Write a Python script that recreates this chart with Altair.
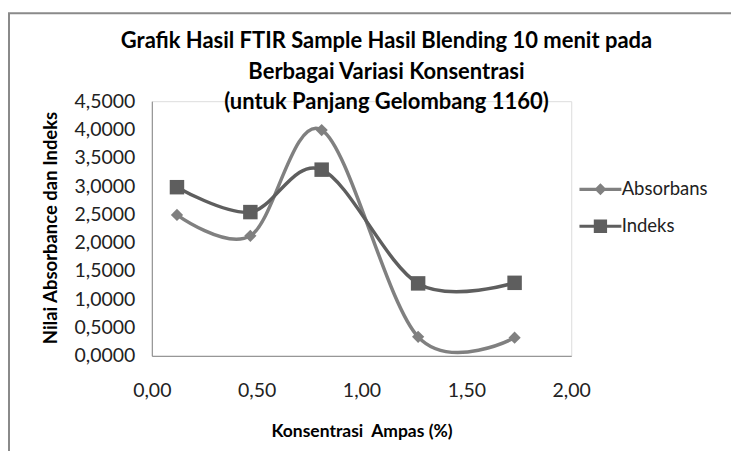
import altair as alt
import pandas as pd

# ---- data ----
konsentrasi = [0.12, 0.47, 0.81, 1.27, 1.73]
absorbans = [2.49, 2.12, 3.99, 0.335, 0.32]
indeks = [2.98, 2.54, 3.29, 1.28, 1.29]
series_names = ["Absorbans", "Indeks"]
series_colors = ["#808080", "#5e5e5e"]
marker_shapes = ["diamond", "square"]
marker_sizes = [150, 210]
x_ticks = [0, 0.5, 1.0, 1.5, 2.0]
y_ticks = [0, 0.5, 1.0, 1.5, 2.0, 2.5, 3.0, 3.5, 4.0, 4.5]
title_lines = [
    "Grafik Hasil FTIR Sample Hasil Blending 10 menit pada",
    "Berbagai Variasi Konsentrasi",
    "(untuk Panjang Gelombang 1160)",
]
x_title = "Konsentrasi\u00a0 Ampas (%)"
y_title = "Nilai Absorbance dan Indeks"

# legend symbols: line with marker (custom SVG paths)
legend_paths = [
    "M-3,-0.23H3V0.23H-3Z M-0.86,0L0,-0.86L0.86,0L0,0.86Z",
    "M-3,-0.23H3V0.23H-3Z M-0.95,-0.95H0.95V0.95H-0.95Z",
]

rows = []
for name, vals in zip(series_names, [absorbans, indeks]):
    for xv, yv in zip(konsentrasi, vals):
        rows.append({"series": name, "x": xv, "y": yv})
df = pd.DataFrame(rows)

FONT = "Lato"

x_enc = alt.X(
    "x:Q",
    scale=alt.Scale(domain=[0, 2], nice=False, zero=False),
    axis=alt.Axis(
        values=x_ticks,
        labelExpr="replace(format(datum.value, '.2f'), '.', ',')",
        ticks=False, grid=False, domainColor="#868686", domainWidth=1,
        labelFont=FONT, labelFontSize=19.5, labelColor="#222222",
        labelPadding=26, labelFlush=False, labelOverlap=False,
        title=x_title, titleFont=FONT, titleFontSize=17.5, titleFontWeight="bold",
        titleColor="#000000", titleY=76, titleBaseline="middle",
    ),
)
y_enc = alt.Y(
    "y:Q",
    scale=alt.Scale(domain=[0, 4.5], nice=False),
    axis=alt.Axis(
        values=y_ticks,
        labelExpr="replace(format(datum.value, '.4f'), '.', ',')",
        ticks=False, grid=False, domainColor="#868686", domainWidth=1,
        labelFont=FONT, labelFontSize=19.5, labelColor="#222222",
        labelPadding=17, labelFlush=False, labelOverlap=False,
        title=y_title, titleFont=FONT, titleFontSize=18.5, titleFontWeight="bold",
        titleColor="#000000", titleX=-101.5, titleY=126.5, titleAngle=-90,
        titleAlign="center", titleBaseline="middle",
    ),
)

color_scale = alt.Scale(domain=series_names, range=series_colors)

base = alt.Chart(df)

lines = base.mark_line(interpolate="cardinal", strokeWidth=3.5).encode(
    x=x_enc, y=y_enc,
    color=alt.Color("series:N", scale=color_scale, legend=None),
)

points = base.mark_point(filled=True, opacity=1).encode(
    x=x_enc, y=y_enc,
    color=alt.Color("series:N", scale=color_scale, legend=None),
    shape=alt.Shape("series:N", scale=alt.Scale(domain=series_names, range=marker_shapes), legend=None),
    size=alt.Size("series:O", scale=alt.Scale(domain=series_names, range=marker_sizes), legend=None),
)

leg = alt.Legend(
    orient="none", legendX=440, legendY=79, title=None,
    symbolSize=196, labelOffset=12, labelFont=FONT, labelFontSize=18.5,
    labelColor="#222222", rowPadding=18, padding=0, symbolStrokeWidth=0,
)
legend_layer = base.mark_point(filled=True, opacity=1).transform_filter("false").encode(
    x=x_enc, y=y_enc,
    color=alt.Color("series:N", scale=alt.Scale(domain=series_names, range=series_colors), legend=leg),
    shape=alt.Shape("series:N", scale=alt.Scale(domain=series_names, range=legend_paths), legend=leg),
)

border = alt.Chart(pd.DataFrame({"b": [0]})).mark_rect(
    fillOpacity=0, stroke="#8a8a8a", strokeWidth=2
).encode(
    x=alt.value(-143), x2=alt.value(900), y=alt.value(-88), y2=alt.value(700)
)

chart = alt.layer(border, lines, points, legend_layer).resolve_scale(
    color="independent", shape="independent", size="independent"
).properties(
    width=420, height=255,
    padding={"left": 144, "top": 93, "right": 160, "bottom": 95},
    autosize=alt.AutoSizeParams(type="none"),
    title=alt.TitleParams(
        text=title_lines, font=FONT, fontSize=22, fontWeight="bold",
        color="#000000", anchor="middle", dx=25, dy=106, lineHeight=30.5,
    ),
).configure_view(stroke=None).configure(background="white")

chart.save("out.html", embed_options={"renderer": "svg", "actions": False})
